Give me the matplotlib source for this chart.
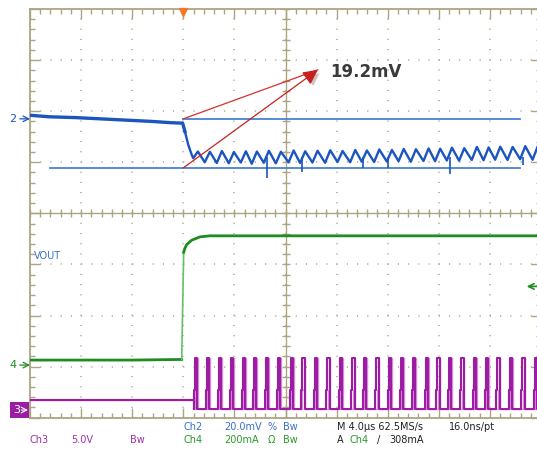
import numpy as np
import matplotlib.pyplot as plt
from matplotlib import patheffects as pe
from matplotlib.patches import Rectangle
from matplotlib.ticker import MultipleLocator

# Time base: 4 us/div, 10 divisions, trigger 3 divisions from the left edge.
T_LEFT, T_RIGHT = -12.0, 28.0
US_PER_DIV = 4.0
N_YDIV = 8

# Channel scales (per div) and ground marker positions (div from bottom).
CH2_SCALE, CH2_REF = 20.0, 5.85    # mV/div, VOUT
CH4_SCALE, CH4_REF = 200.0, 1.03   # mA/div, load current
CH3_SCALE, CH3_REF = 5.0, 0.15     # V/div, switch node

# Ch2 (VOUT, mV relative to marker 2)
ch2_t = [-12.0, -10.5, -8.5, -6.5, -4.5, -2.5, -1.0, -0.05, 0.13, 0.39, 0.66, 0.78,
         1.14, 1.68, 2.08, 2.62, 3.02, 3.56, 3.96, 4.50, 4.90, 5.36, 5.76, 6.30,
         6.70, 7.24, 7.64, 8.24, 8.64, 9.14, 9.54, 10.11, 10.51, 11.10, 11.50, 12.07,
         12.47, 13.06, 13.46, 13.97, 14.37, 14.94, 15.34, 15.93, 16.33, 16.85, 17.25,
         17.81, 18.21, 18.80, 19.20, 19.71, 20.11, 20.63, 21.03, 21.59, 21.99, 22.58,
         22.98, 23.50, 23.90, 24.41, 24.81, 25.38, 25.78, 26.37, 26.77, 27.34, 27.74,
         28.0]
ch2_mv = [1.4, 0.8, 0.5, 0.0, -0.5, -1.0, -1.5, -1.7, -5.0, -10.2, -14.1, -15.4,
          -12.8, -17.0, -12.9, -17.3, -12.6, -17.4, -13.0, -17.1, -12.7, -17.6, -12.8,
          -17.2, -12.5, -17.4, -12.9, -17.0, -12.4, -17.3, -12.7, -17.1, -12.5, -17.2,
          -12.3, -16.9, -12.6, -17.0, -12.2, -16.8, -12.4, -16.9, -12.0, -16.7, -12.2,
          -16.6, -11.8, -16.8, -11.9, -16.5, -11.6, -16.6, -11.7, -16.3, -11.3, -16.4,
          -11.5, -16.1, -11.0, -16.2, -11.2, -16.0, -10.9, -16.1, -11.0, -15.8, -10.7,
          -16.0, -10.8, -13.0]
spike_t = [6.55, 9.30, 14.07, 16.00, 20.88, 26.60]
spike_mv = [-23.1, -20.7, -19.4, -19.2, -21.5, -18.0]
CURSOR_HI, CURSOR_LO = 0.0, -19.2
cursor_hi_t = [0.0, 26.36]
cursor_lo_t = [-10.43, 26.36]

# Ch4 (load current, mA)
ch4_t = [-12.0, -8.0, -4.0, -0.125, 0.03, 0.13, 0.27, 0.66, 1.31, 2.09, 28.0]
ch4_ma = [19.6, 19.6, 19.6, 22.0, 442.0, 458.0, 472.0, 489.0, 502.0, 506.0, 506.0]

# Ch3 (switch node, V)
ch3_idle_t = [-12.0, 0.84]
ch3_idle_v = [0.98, 0.98]
pulse_t = [0.99, 1.93, 2.87, 3.81, 4.75, 5.61, 6.55, 7.49, 8.49, 9.39, 10.36, 11.35,
           12.32, 13.31, 14.22, 15.19, 16.18, 17.10, 18.06, 19.05, 19.96, 20.88,
           21.84, 22.83, 23.75, 24.66, 25.63, 26.62, 27.59]
CH3_LOW, CH3_MID, CH3_HIGH = 0.15, 2.0, 5.1

BLUE = "#1a55c0"
GREEN = "#1e8c1e"
PURPLE = "#9c1ca4"
TAN = "#aca482"
DOT = "#b4b09c"


def ch2(v):
    return CH2_REF + np.asarray(v) / CH2_SCALE


def ch4(v):
    return CH4_REF + np.asarray(v) / CH4_SCALE


def ch3(v):
    return CH3_REF + np.asarray(v) / CH3_SCALE


def pulse_train(times, shift=0.0, width=0.1):
    xs, ys = list(ch3_idle_t), list(ch3_idle_v)
    xs.append(ch3_idle_t[-1])
    ys.append(CH3_LOW)
    for p in times:
        p += shift
        xs += [p - 0.16, p - 0.16, p - 0.08, p - 0.08, p + width, p + width]
        ys += [CH3_LOW, CH3_MID, CH3_MID, CH3_HIGH, CH3_HIGH, CH3_LOW]
    xs.append(T_RIGHT)
    ys.append(CH3_LOW)
    return xs, ys


W, H = 537, 449
fig = plt.figure(figsize=(W / 100, H / 100), dpi=100)
ax = fig.add_axes([30 / W, 31.3 / H, 511 / W, 408.7 / H])
ax.set_xlim(T_LEFT, T_RIGHT)
ax.set_ylim(0, N_YDIV)

# graticule
for t in np.arange(T_LEFT + US_PER_DIV, T_RIGHT, US_PER_DIV):
    ax.axvline(t, color=DOT, lw=1.3, ls=(0, (0.6, 5.06)), zorder=0)
for y in range(1, N_YDIV):
    ax.axhline(y, color=DOT, lw=1.3, ls=(0, (0.6, 5.06)), zorder=0)
t_mid = T_LEFT + 5 * US_PER_DIV
ax.axvline(t_mid, color=TAN, lw=1.0, zorder=1)
ax.axhline(N_YDIV / 2, color=TAN, lw=1.0, zorder=1)
ax.plot(np.full(41, t_mid), np.linspace(0, N_YDIV, 41), ls="none", marker="_",
        ms=6, mew=1.0, color=TAN, zorder=1)
ax.plot(np.linspace(T_LEFT, T_RIGHT, 51), np.full(51, N_YDIV / 2), ls="none",
        marker="|", ms=6, mew=1.0, color=TAN, zorder=1)

ax.xaxis.set_major_locator(MultipleLocator(US_PER_DIV))
ax.xaxis.set_minor_locator(MultipleLocator(US_PER_DIV / 5))
ax.yaxis.set_major_locator(MultipleLocator(1))
ax.yaxis.set_minor_locator(MultipleLocator(0.2))
ax.tick_params(which="both", direction="in", top=True, right=True, color=TAN,
               labelbottom=False, labelleft=False, width=1.0)
ax.tick_params(which="major", length=7.5)
ax.tick_params(which="minor", length=3.6)
for s in ax.spines.values():
    s.set_color(TAN)
    s.set_linewidth(1.3)

# Ch2 cursors and trace
ax.plot(cursor_hi_t, ch2([CURSOR_HI] * 2), color="#4a80d6", lw=1.3, zorder=3)
ax.plot(cursor_lo_t, ch2([CURSOR_LO] * 2), color="#4a80d6", lw=1.3, zorder=3)
ax.plot(ch2_t[:9], ch2(ch2_mv[:9]), color=BLUE, lw=2.4, zorder=4)
ax.plot(ch2_t[8:], ch2(ch2_mv[8:]), color=BLUE, lw=1.7, zorder=4)
ax.vlines(spike_t, ch2(spike_mv), ch2(-15.0), color=BLUE, lw=1.2, zorder=4)

# Ch4 trace (rising edge drawn lighter)
ax.plot(ch4_t[:4], ch4(ch4_ma[:4]), color=GREEN, lw=2.0, zorder=4)
ax.plot(ch4_t[3:5], ch4(ch4_ma[3:5]), color="#66c066", lw=1.2, zorder=4)
ax.plot(ch4_t[4:], ch4(ch4_ma[4:]), color=GREEN, lw=2.0, zorder=4)

# Ch3 trace with light persistence copy
px, py = pulse_train(pulse_t, shift=0.1, width=0.06)
ax.plot(px, ch3(py), color="#d890d8", lw=1.0, zorder=3)
px, py = pulse_train(pulse_t)
ax.plot(px, ch3(py), color=PURPLE, lw=1.5, zorder=4)

# measurement annotation
tip = (10.54, ch2(19.2))
ax.annotate("", xy=tip, xytext=(0.0, ch2(CURSOR_HI)),
            arrowprops=dict(arrowstyle="-", color="#d83030", lw=0.9,
                            shrinkA=0, shrinkB=0), zorder=5)
ax.annotate("", xy=tip, xytext=(0.0, ch2(CURSOR_LO)),
            arrowprops=dict(arrowstyle="-|>,head_length=0.9,head_width=0.45",
                            color="#c82020", lw=0.9, shrinkA=0, shrinkB=0,
                            path_effects=[pe.withSimplePatchShadow(
                                offset=(2, -2), alpha=0.25)]),
            zorder=5)
ax.text(11.48, ch2(18.4), "19.2mV", fontsize=12, fontweight="bold",
        color="#3a3a3a", va="center", ha="left", zorder=6)

# trigger position and level markers
ax.plot([0.0], [N_YDIV - 0.05], marker="v", ms=6, color="#f07a20", clip_on=False,
        zorder=6)
ytr = ax.get_yaxis_transform()
ax.annotate("", xy=(0.972, ch4(308)), xycoords=ytr, xytext=(0.994, ch4(308)),
            textcoords=ytr, arrowprops=dict(arrowstyle="->", color=GREEN, lw=1.2,
                                            shrinkA=0, shrinkB=0))

# channel ground markers
ax.text(-0.027, ch2(0), "2", transform=ytr, color=BLUE, fontsize=8, ha="right",
        va="center")
ax.annotate("", xy=(0.0, ch2(0)), xycoords=ytr, xytext=(-0.02, ch2(0)),
            textcoords=ytr, arrowprops=dict(arrowstyle="->", color=BLUE, lw=0.9,
                                            shrinkA=0, shrinkB=0))
ax.text(-0.027, ch4(0), "4", transform=ytr, color=GREEN, fontsize=8, ha="right",
        va="center")
ax.annotate("", xy=(0.0, ch4(0)), xycoords=ytr, xytext=(-0.02, ch4(0)),
            textcoords=ytr, arrowprops=dict(arrowstyle="->", color=GREEN, lw=0.9,
                                            shrinkA=0, shrinkB=0))
ax.add_patch(Rectangle((-0.039, ch3(0) - 0.15), 0.037, 0.3, transform=ytr,
                       facecolor=PURPLE, edgecolor="none", clip_on=False))
ax.text(-0.033, ch3(0), "3", transform=ytr, color="white", fontsize=8, ha="left",
        va="center")
ax.annotate("", xy=(-0.004, ch3(0)), xycoords=ytr, xytext=(-0.017, ch3(0)),
            textcoords=ytr, arrowprops=dict(arrowstyle="->", color="white", lw=0.8,
                                            shrinkA=0, shrinkB=0))
ax.text(-11.7, 3.165, "VOUT", color="#3a6fcc", fontsize=7, va="center", ha="left")

# readout
BLUE_T, GREEN_T, PURPLE_T = "#3a6fcc", "#2a9a2a", "#a030a8"
readout = [
    ("Ch2", 183, 427.5, BLUE_T), ("20.0mV", 224, 427.5, BLUE_T),
    ("%", 268, 427.5, BLUE_T), ("Bw", 283, 427.5, BLUE_T),
    ("M 4.0\u00b5s 62.5MS/s", 337, 427.5, "#222222"), ("16.0ns/pt", 449, 427.5, "#222222"),
    ("Ch3", 30, 440, PURPLE_T), ("5.0V", 71, 440, PURPLE_T), ("Bw", 130, 440, PURPLE_T),
    ("Ch4", 183, 440, GREEN_T), ("200mA", 224, 440, GREEN_T),
    ("\u03a9", 268, 440, GREEN_T), ("Bw", 283, 440, GREEN_T),
    ("A", 337, 440, "#222222"), ("Ch4", 349, 440, GREEN_T),
    ("/", 377, 440, "#222222"), ("308mA", 389, 440, "#222222"),
]
for s, x, y, c in readout:
    fig.text(x / W, 1 - y / H, s, color=c, fontsize=7, ha="left", va="center")

fig.savefig("out.png", dpi=100)
